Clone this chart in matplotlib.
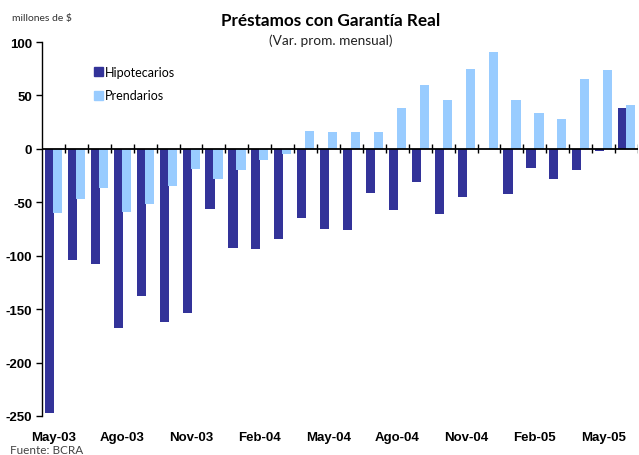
import numpy as np
import matplotlib.pyplot as plt
from matplotlib.patches import Patch

plt.rcParams['axes.unicode_minus']=False

#==============================================================================
#data (millones de $, var. prom. mensual)
#==============================================================================
meses=['May-03','Jun-03','Jul-03','Ago-03','Sep-03','Oct-03','Nov-03','Dic-03',
       'Ene-04','Feb-04','Mar-04','Abr-04','May-04','Jun-04','Jul-04','Ago-04',
       'Sep-04','Oct-04','Nov-04','Dic-04','Ene-05','Feb-05','Mar-05','Abr-05',
       'May-05','Jun-05']

hipotecarios=[-247,-104,-108,-168,-138,-162,-154,-56,-93,-94,-84,-65,
              -75,-76,-41,-57,-31,-61,-45,0,-42,-18,-28,-20,-2,38]

prendarios=[-60,-47,-37,-59,-52,-35,-19,-28,-20,-10,-5,17,
            16,16,16,38,60,46,75,91,46,34,28,65,74,41]

yticks=[100,50,0,-50,-100,-150,-200,-250]

c_hip='#333399'
c_pre='#99CCFF'

'''canvas'''
fig=plt.figure(figsize=(6.39,4.56),dpi=100)
ax=fig.add_axes([42/639,39/456,596/639,374/456])

x=np.arange(len(meses))
w=0.4
ax.bar(x-0.17,hipotecarios,w,color=c_hip,zorder=2)
ax.bar(x+0.18,prendarios,w,color=c_pre,zorder=2)

ax.set_xlim(-0.5,len(meses)-0.5)
ax.set_ylim(-250,100)

#spines
for s in ['top','right','bottom']:
    ax.spines[s].set_visible(False)
ax.spines['left'].set_linewidth(1.0)

#zero line with category ticks
ax.axhline(0,color='black',lw=1.3,zorder=3)
ax.vlines(np.arange(len(meses))+0.5,-4.2,4.2,color='black',lw=1.0,zorder=3)

#y axis
ax.set_yticks(yticks)
ax.tick_params(axis='y',direction='out',length=4,width=1.0,pad=3)
for lab in ax.get_yticklabels():
    lab.set_fontweight('bold')
    lab.set_fontsize(9.5)
    lab.set_fontfamily('Liberation Sans')

#x labels every 3 months
ax.set_xticks(x[::3])
ax.set_xticklabels(meses[::3],fontsize=9.5,fontweight='bold',family='Liberation Sans')
ax.tick_params(axis='x',length=0,pad=11)

#legend
handles=[Patch(color=c_hip,label='Hipotecarios'),Patch(color=c_pre,label='Prendarios')]
leg=ax.legend(handles=handles,loc='upper left',bbox_to_anchor=(0.068,0.967),
              frameon=False,handlelength=0.75,handleheight=0.75,handletextpad=0.15,
              labelspacing=0.95,prop={'family':'Lato','size':9})

#titles and notes
fig.text(331/639,1-21/456,'Préstamos con Garantía Real',ha='center',va='center',
         fontsize=12.3,fontweight='bold',family='Lato')
fig.text(331/639,1-41/456,'(Var. prom. mensual)',ha='center',va='center',
         fontsize=9.8,family='Lato',color='#222222')
fig.text(12/639,1-19/456,'millones de $',ha='left',va='center',fontsize=7.5,
         family='Lato',color='#333333')
fig.text(10/639,1-451/456,'Fuente: BCRA',ha='left',va='center',fontsize=8.5,
         family='Lato',color='#444444')

plt.savefig('out.png',dpi=100)
plt.close()
